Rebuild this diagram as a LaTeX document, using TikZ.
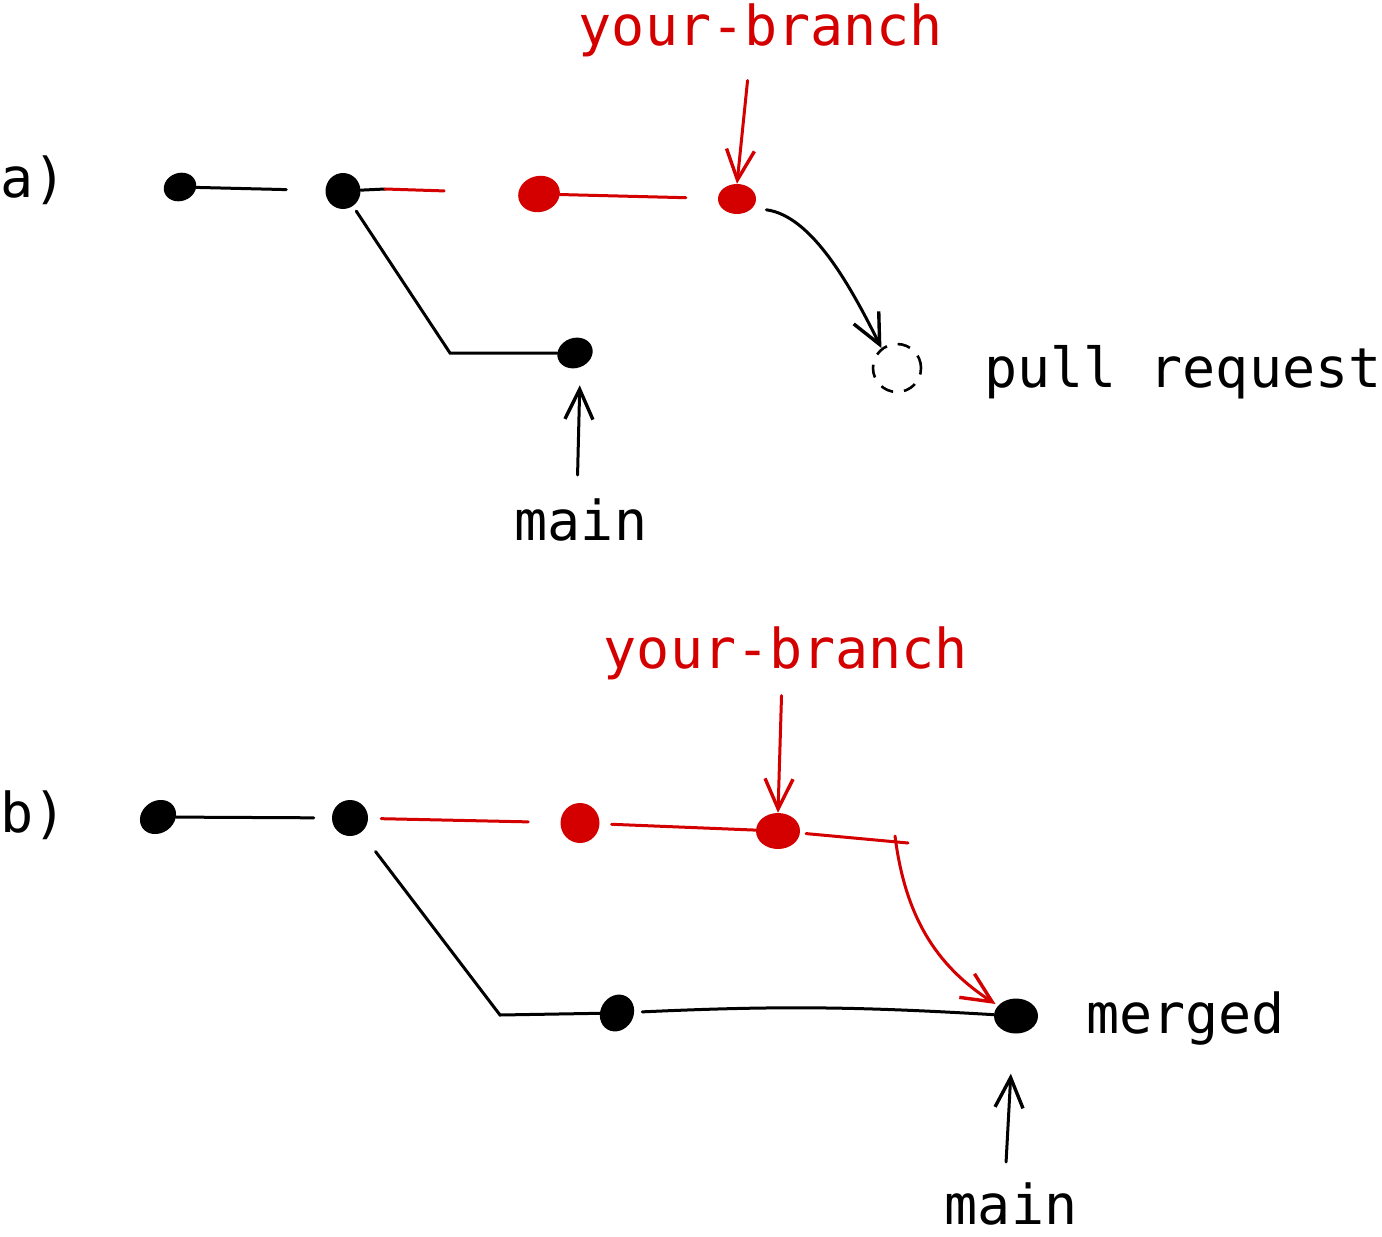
\documentclass[tikz,border=0pt]{standalone}
\usepackage{fontspec}
\setmonofont{DejaVu Sans Mono}
\usetikzlibrary{arrows.meta,shapes.geometric}
\definecolor{sred}{RGB}{212,0,0}
\begin{document}
\begin{tikzpicture}[x=1pt,y=-1pt,
  dotb/.style={ellipse, fill=black, inner sep=0pt},
  dotr/.style={ellipse, fill=sred, inner sep=0pt},
  ln/.style={line width=3pt, line cap=round},
  arr/.style={ln, -{Straight Barb[length=30pt,width=28pt,line width=3.4pt]}},
  lbl/.style={font=\fontsize{55}{60}\selectfont\ttfamily, inner sep=0pt},
]
\useasboundingbox (0,0) rectangle (1382,1237);

% ---------- part a ----------
\node[lbl, anchor=base west] (la) at (0,197) {a)};
\node[dotb, minimum width=33pt, minimum height=28pt, rotate=20] (a1) at (180,187) {};
\node[dotb, minimum width=35pt, minimum height=36pt] (a2) at (343,191) {};
\node[dotr, minimum width=42pt, minimum height=36pt, rotate=15] (a3) at (539,194) {};
\node[dotr, minimum width=38pt, minimum height=30pt] (a4) at (737,199) {};
\node[dotb, minimum width=36pt, minimum height=30pt, rotate=20] (a5) at (575,353) {};
\node[circle, draw, dash pattern=on 13pt off 11pt, line width=2.6pt, minimum size=48pt, inner sep=0pt] (pr) at (897,368) {};

\coordinate (am) at (385,189);
\coordinate (abend) at (450,353);
\draw[ln, shorten >=39pt] (a1) -- (a2);
\draw[ln] (a2) -- (am);
\draw[ln, sred, shorten >=74pt] (am) -- (a3);
\draw[ln, sred, shorten >=32pt] (a3) -- (a4);
\draw[ln, shorten <=6pt] (a2) -- (abend) -- (a5);

\node[lbl, text=sred, anchor=base] (yba) at (761,45) {your-branch};
\node[lbl, anchor=base] (maina) at (581,540) {main};
\node[lbl, anchor=base west] (prl) at (984,387) {pull request};

\draw[arr, sred, shorten <=24pt] ([xshift=-11pt]yba.south) -- (a4.north);
\draw[arr, shorten <=23pt, shorten >=18pt] ([xshift=-4pt]maina.north) -- (a5.south);
\draw[arr, shorten <=14pt] (a4.-30) .. controls +(60,8) and +(-30,-60) .. (pr.128);

% ---------- part b ----------
\node[lbl, anchor=base west] (lb) at (0,832) {b)};
\node[dotb, minimum width=38pt, minimum height=32pt, rotate=35] (b1) at (158,817) {};
\node[dotb, minimum width=36pt, minimum height=36pt] (b2) at (350,818) {};
\node[dotr, minimum width=39pt, minimum height=40pt] (b3) at (580,823) {};
\node[dotr, minimum width=44pt, minimum height=36pt] (b4) at (778,831) {};
\node[dotb, minimum width=38pt, minimum height=33pt, rotate=60] (b5) at (617,1013) {};
\node[dotb, minimum width=44pt, minimum height=35pt] (b6) at (1016,1016) {};

\coordinate (bm) at (908,843);
\coordinate (bt) at (895,836);
\coordinate (bbend) at (500,1015);
\draw[ln, shorten >=18pt] (b1) -- (b2);
\draw[ln, sred, shorten <=13pt, shorten >=32pt] (b2) -- (b3);
\draw[ln, sred, shorten <=12pt] (b3) -- (b4);
\draw[ln, sred, shorten <=6pt] (b4) -- (bm);
\draw[ln, shorten <=24pt] (b2) -- (bbend) -- (b5);
\draw[ln, shorten <=8pt] (b5) to[bend left=3] (b6);
\draw[arr, sred, shorten >=3pt] (bt) .. controls (905,915) and (935,965) .. (b6.150);

\node[lbl, text=sred, anchor=base] (ybb) at (786,668) {your-branch};
\node[lbl, anchor=base west] (mg) at (1086,1033) {merged};
\node[lbl, anchor=base] (mainb) at (1011,1224) {main};

\draw[arr, sred, shorten <=16pt] ([xshift=-4pt]ybb.south) -- (b4.north);
\draw[arr, shorten <=20pt, shorten >=40pt] ([xshift=-6pt]mainb.north) -- ([xshift=-3pt]b6.south);
\end{tikzpicture}
\end{document}
